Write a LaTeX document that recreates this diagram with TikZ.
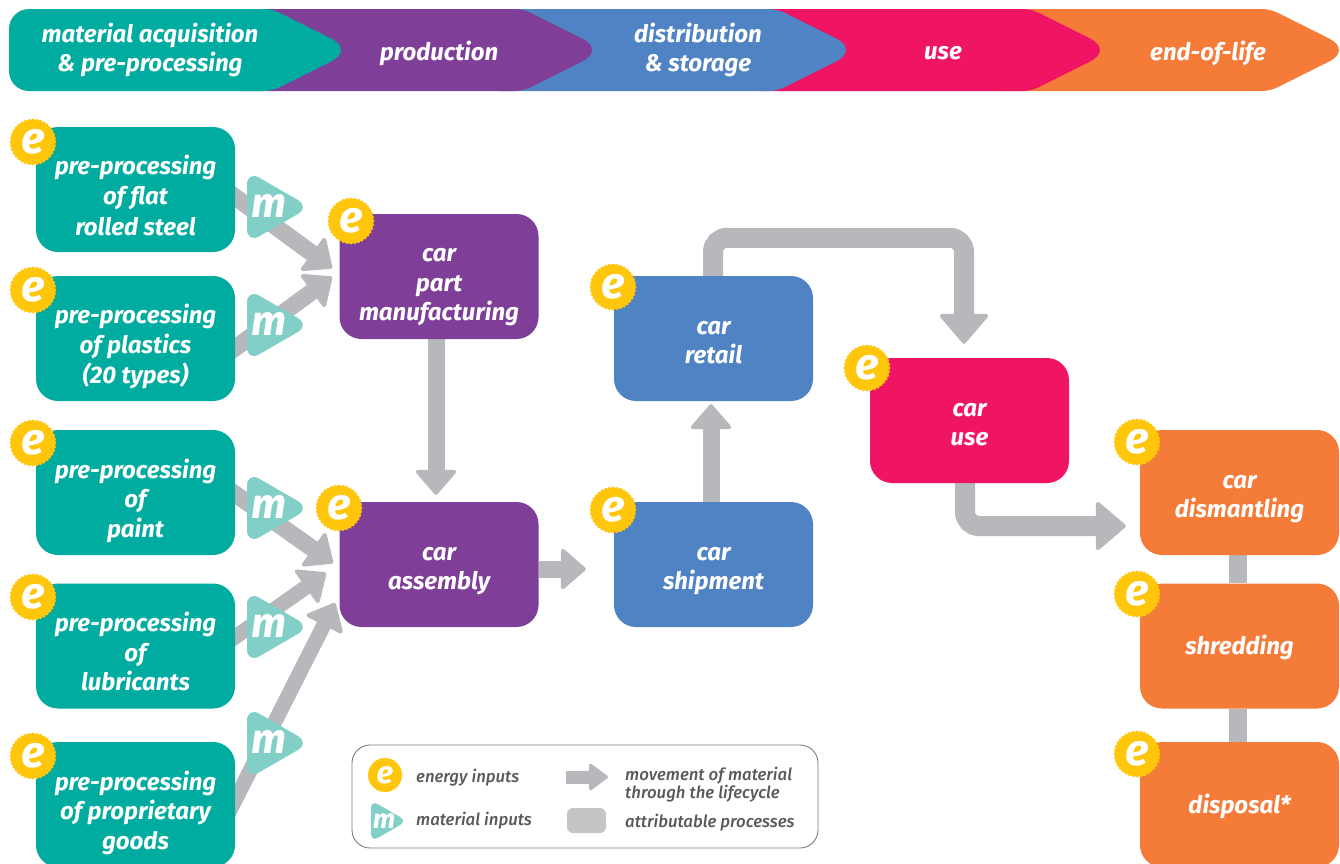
\documentclass[tikz,border=0pt]{standalone}
\usepackage{fontspec}
\setmainfont{Fira Sans}
\newfontfamily\legfont{Fira Sans Medium}
\usetikzlibrary{arrows.meta,shapes.geometric}
\pgfdeclarelayer{back}
\pgfsetlayers{back,main}
\definecolor{cteal}{HTML}{00ABA0}
\definecolor{cpurple}{HTML}{7F3F98}
\definecolor{cblue}{HTML}{5083C3}
\definecolor{cpink}{HTML}{F01464}
\definecolor{corange}{HTML}{F57B39}
\definecolor{cyell}{HTML}{FFC60B}
\definecolor{cmint}{HTML}{82CFC8}
\definecolor{cgray}{HTML}{B7B8BB}
\definecolor{cgraybox}{HTML}{C4C5C7}
\definecolor{ctext}{HTML}{58595B}
\newcommand{\bt}[2]{\raisebox{-#1}[0pt][0pt]{\begin{tabular}[c]{@{}c@{}}#2\end{tabular}}}
\newcommand{\zs}[1]{\makebox[0pt]{\raisebox{-0.26em}[0pt][0pt]{#1}}}
\newcommand{\seg}[4]{\fill[#1] (#2,9) [rounded corners=8pt] -- (#3,9) [rounded corners=25pt] -- (#4,50) [rounded corners=8pt] -- (#3,91) [sharp corners] -- (#2,91) -- cycle;}
\tikzset{
  x=1pt,y=-1pt,
  lab/.style={text=white,font=\fontsize{24}{29.5}\selectfont\bfseries\itshape,inner sep=0pt},
  proc/.style={lab,rectangle,rounded corners=22pt,minimum width=199pt,minimum height=125pt},
  badge/.style={star,star points=36,star point ratio=1.06,fill=cyell,minimum size=47pt,inner sep=0pt,text=white,font=\fontsize{44}{44}\selectfont\bfseries\itshape},
  badgesm/.style={badge,minimum size=35pt,font=\fontsize{31}{31}\selectfont\bfseries\itshape},
  minput/.style={regular polygon,regular polygon sides=3,shape border rotate=-90,rounded corners=14pt,fill=cmint,minimum size=84pt,inner sep=0pt,text=white,font=\fontsize{42}{42}\selectfont\bfseries\itshape},
  minputsm/.style={minput,rounded corners=8pt,minimum size=48pt,font=\fontsize{27}{27}\selectfont\bfseries\itshape},
  flow/.style={draw=cgray,line width=17pt,-{Triangle[length=26pt,width=44pt,line width=4pt,round]}},
  flowthin/.style={flow,line width=15pt},
  feed/.style={shorten <=-20pt},
  elbow/.style={flow,line width=20pt,rounded corners=14pt,-{Triangle[length=31pt,width=52pt,line width=4pt,round]}},
  link/.style={draw=cgray,line width=18pt},
  legtext/.style={text=ctext,font=\legfont\fontsize{16.8}{16.5}\selectfont\itshape,inner sep=0pt,anchor=west,align=left},
}
\begin{document}
\begin{tikzpicture}
\clip (0,0) rectangle (1340,863);
% banner
\seg{corange}{1000}{1270}{1352}
\seg{cpink}{760}{1031}{1113}
\seg{cblue}{500}{777}{859}
\seg{cpurple}{240}{523}{605}
\fill[cteal] (9,50) [rounded corners=20pt] -- (9,9) [rounded corners=8pt] -- (272,9) [rounded corners=25pt] -- (354,50) [rounded corners=8pt] -- (272,91) [rounded corners=20pt] -- (9,91) [sharp corners] -- cycle;
\node[lab,align=center] (b1) at (150,50) {material acquisition\\\& pre-processing};
\node[lab] (b2) at (439,53) {production};
\node[lab,align=center] (b3) at (698,50) {distribution\\\& storage};
\node[lab] (b4) at (943,53) {use};
\node[lab] (b5) at (1208,53) {end-of-life};
% process boxes
\node[proc,fill=cteal,font=\fontsize{24}{30.5}\selectfont\bfseries\itshape] (s1) at (135.5,189.5) {\bt{15.5pt}{pre-processing\\of flat\\rolled steel}};
\node[proc,fill=cteal,font=\fontsize{24}{30}\selectfont\bfseries\itshape] (s2) at (135.5,338.5) {\bt{15.5pt}{pre-processing\\of plastics\\(20 types)}};
\node[proc,fill=cteal] (s3) at (135.5,492.5) {\bt{15.5pt}{pre-processing\\of\\paint}};
\node[proc,fill=cteal] (s4) at (135.5,646) {\bt{15.5pt}{pre-processing\\of\\lubricants}};
\node[proc,fill=cteal] (s5) at (135.5,804.5) {\bt{15.5pt}{pre-processing\\of proprietary\\goods}};
\node[proc,fill=cpurple] (part) at (439,276.5) {\bt{15pt}{car\\part\\manufacturing}};
\node[proc,fill=cpurple] (asm) at (439,564.5) {\bt{11pt}{car\\assembly}};
\node[proc,fill=cblue] (retail) at (713.5,338.5) {\bt{11pt}{car\\retail}};
\node[proc,fill=cblue] (ship) at (713.5,564.5) {\bt{11pt}{car\\shipment}};
\node[proc,fill=cpink] (use) at (969.5,420.5) {\bt{11pt}{car\\use}};
\node[proc,fill=corange] (dis) at (1239.5,492.5) {\bt{11pt}{car\\dismantling}};
\node[proc,fill=corange] (shred) at (1239.5,646) {\bt{9pt}{shredding}};
\node[proc,fill=corange] (disp) at (1239.5,804.5) {\bt{9pt}{disposal*}};
% energy badges
\foreach \n/\px/\py in {e1/33/142,e2/33/290,e3/33/443,e4/33/597,e5/33/756,e6/351/221,e7/339/508,e8/613/287,e9/613/510,e10/867/368,e11/1137/442,e12/1137/594,e13/1137/754}
  \node[badge] (\n) at (\px,\py) {\zs{e}};
% material inputs
\foreach \n/\py in {m1/207,m2/325,m3/508,m4/627,m5/743}
  \node[minput] (\n) at (268,\py) {\zs{\hspace{2pt}m}};
% connector end points
\coordinate (t1) at (332,268);
\coordinate (t2) at (332,277);
\coordinate (t3) at (333,563);
\coordinate (t4) at (326,573);
\coordinate (t5) at (335,603);
\begin{pgfonlayer}{back}
\draw[flow,feed] ([yshift=-7.5pt]s1.east) -- (t1);
\draw[flow,feed] ([yshift=-9.5pt]s2.east) -- (t2);
\draw[flow,feed] ([yshift=-1.5pt]s3.east) -- (t3);
\draw[flowthin,feed] ([yshift=9pt]s4.east) -- (t4);
\draw[flowthin,feed] ([yshift=4.5pt]s5.east) -- (t5);
\draw[flow,shorten >=7pt] ([xshift=-3pt]part.south) -- ([xshift=-3pt]asm.north);
\draw[flow,shorten >=28pt] ([yshift=-4.5pt]asm.east) -- ([yshift=-4.5pt]ship.west);
\draw[flow,shorten >=3pt] ([xshift=-2.5pt]ship.north) -- ([xshift=-2.5pt]retail.south);
\draw[elbow,shorten >=14pt] ([xshift=-0.5pt]retail.north) -- ++(0,-38) -| (use.north -| 964,0);
\draw[elbow,shorten >=14pt] ([xshift=-4.5pt]use.south) |- ([yshift=-33.5pt]dis.west);
\draw[link] ([xshift=-1.5pt]dis.south) -- ([xshift=-1.5pt]shred.north);
\draw[link] ([xshift=-1.5pt]shred.south) -- ([xshift=-1.5pt]disp.north);
\end{pgfonlayer}
% legend
\node[draw=ctext!80!white,line width=0.9pt,rectangle,rounded corners=18pt,minimum width=466pt,minimum height=103pt,inner sep=0pt] (leg) at (585,796.5) {};
\node[badgesm] (le) at (385,775) {\zs{e}};
\node[minputsm] (lm) at (383,821) {\zs{\hspace{2pt}m}};
\node[legtext] (l1) at (416,778) {energy inputs};
\node[legtext] (l2) at (416,821) {material inputs};
\node[legtext] (l3) at (625,784.5) {movement of material\\through the lifecycle};
\node[legtext] (l4) at (625,823) {attributable processes};
\coordinate (la) at (566,777);
\coordinate (lb) at (608,777);
\draw[draw=cgray,line width=13pt,-{Triangle[length=20pt,width=29pt,line width=3pt,round]}] (la) -- (lb);
\node[fill=cgraybox,rectangle,rounded corners=6pt,minimum width=39pt,minimum height=25pt,inner sep=0pt] (lg) at (586.5,820.5) {};
\end{tikzpicture}
\end{document}
